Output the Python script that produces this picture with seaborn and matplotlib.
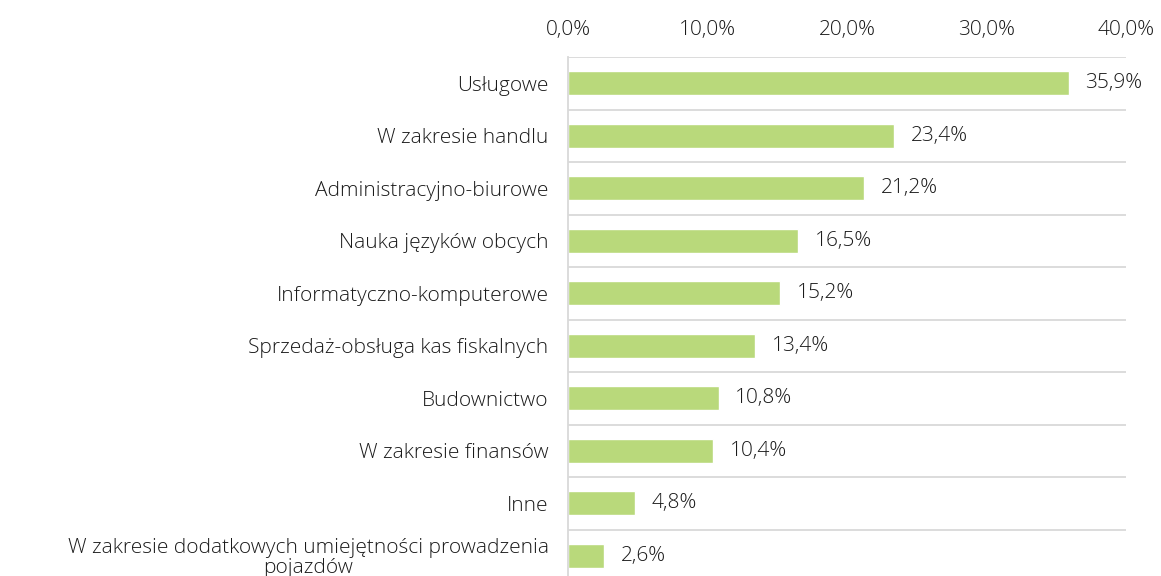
import numpy as np
import pandas as pd
import matplotlib
matplotlib.use("Agg")
import matplotlib.pyplot as plt
import seaborn as sns

categories = [
    "Usługowe",
    "W zakresie handlu",
    "Administracyjno-biurowe",
    "Nauka języków obcych",
    "Informatyczno-komputerowe",
    "Sprzedaż-obsługa kas fiskalnych",
    "Budownictwo",
    "W zakresie finansów",
    "Inne",
    "W zakresie dodatkowych umiejętności prowadzenia\npojazdów",
]
values = [35.9, 23.4, 21.2, 16.5, 15.2, 13.4, 10.8, 10.4, 4.8, 2.6]
xticks = [0, 10, 20, 30, 40]

sns.set_theme(style="white")
plt.rcParams["font.family"] = ["Open Sans", "DejaVu Sans"]
plt.rcParams["font.weight"] = "light"

df = pd.DataFrame({"cat": categories, "val": values})

FS = 15
TXT = "#1a1a1a"

fig = plt.figure(figsize=(11.61, 5.76), dpi=100)
ax = fig.add_axes([568 / 1161, 1 - 582 / 576, (1126 - 568) / 1161, 525 / 576])

sns.barplot(data=df, x="val", y="cat", orient="h", color="#b9d97b",
            width=0.46, ax=ax, saturation=1)

ax.set_xlim(0, 40)
ax.set_ylim(len(categories) - 0.5, -0.5)
ax.set_xticks(xticks)
ax.set_xticklabels([f"{t:.1f}%".replace(".", ",") for t in xticks], fontsize=FS, color=TXT)
ax.xaxis.tick_top()
ax.tick_params(axis="x", length=0, pad=12)
ax.set_xlabel("")
ax.set_ylabel("")
ax.set_yticks(range(len(categories)))
ax.set_yticklabels(categories, fontsize=FS, color=TXT, multialignment="center",
                   linespacing=1.0)
ax.tick_params(axis="y", which="major", length=0, pad=14)
ax.set_yticks(np.arange(-0.5, len(categories)), minor=True)
ax.tick_params(axis="y", which="minor", length=6, color="#d9d9d9", width=1.3)
ax.grid(False)
ax.grid(which="minor", axis="y", color="#d9d9d9", linewidth=1.3)

for s in ["top", "right", "bottom"]:
    ax.spines[s].set_visible(False)
ax.spines["left"].set_color("#d9d9d9")
ax.spines["left"].set_linewidth(1.3)

for i, v in enumerate(values):
    ax.annotate(f"{v:.1f}%".replace(".", ","), xy=(v, i), xytext=(12, 0),
                textcoords="offset points", va="center", ha="left",
                fontsize=FS, color=TXT)

fig.savefig("out.png", dpi=100)
